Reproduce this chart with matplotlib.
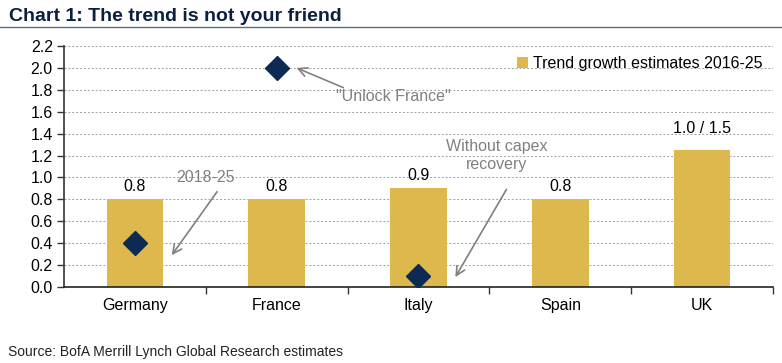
import numpy as np
import matplotlib.pyplot as plt

plt.rcParams['font.family'] = ['Liberation Sans', 'DejaVu Sans']

# Data
countries = ['Germany', 'France', 'Italy', 'Spain', 'UK']
trend = [0.8, 0.8, 0.9, 0.8, 1.25]
bar_labels = ['0.8', '0.8', '0.9', '0.8', '1.0 / 1.5']
alt_idx = [0, 1, 2]            # countries with an alternative scenario
alt_vals = [0.4, 2.0, 0.1]     # diamonds
yticks = [0.0, 0.2, 0.4, 0.6, 0.8, 1.0, 1.2, 1.4, 1.6, 1.8, 2.0, 2.2]

gold = '#DDB84C'
navy = '#0D2B52'
grey = '#808080'

fig = plt.figure(figsize=(7.82, 3.63), dpi=100)
ax = fig.add_axes([0.0818, 0.2094, 0.9067, 0.6639])

x = np.arange(len(countries))
ax.bar(x, trend, width=0.4, color=gold, zorder=2,
       label='Trend growth estimates 2016-25')
ax.plot(alt_idx, alt_vals, linestyle='none', marker='D', markersize=12,
        color=navy, zorder=3)

# value labels above bars
for xi, v, lab in zip(x, trend, bar_labels):
    off = 10 if xi == 4 else 4
    ax.annotate(lab, (xi, v), xytext=(0, off), textcoords='offset points',
                ha='center', va='bottom', fontsize=11.5, color='black')

# annotations with arrows
arrow = dict(arrowstyle='->', color=grey, lw=1.2, shrinkA=0, shrinkB=0,
             mutation_scale=16)
ax.annotate('', xy=(1.14, 2.0), xytext=(1.47, 1.82), arrowprops=arrow)
ax.text(1.82, 1.735, '"Unlock France"', ha='center', va='center',
        fontsize=11.5, color=grey)
ax.annotate('', xy=(0.26, 0.29), xytext=(0.58, 0.87), arrowprops=arrow)
ax.text(0.5, 1.0, '2018-25', ha='center', va='center', fontsize=11.5,
        color=grey)
ax.annotate('', xy=(2.26, 0.09), xytext=(2.62, 0.89), arrowprops=arrow)
ax.text(2.55, 1.2, 'Without capex\nrecovery', ha='center', va='center',
        fontsize=11.5, color=grey, linespacing=1.3)

ax.set_xlim(-0.5, 4.5)
ax.set_ylim(0, 2.2)
ax.set_yticks(yticks)
ax.set_yticklabels([f'{t:.1f}' for t in yticks])
ax.set_xticks(x)
ax.set_xticklabels(countries)
ax.set_xticks(np.arange(0.5, len(countries), 1.0), minor=True)
ax.tick_params(axis='x', which='major', length=0, pad=8, labelsize=11.5)
ax.tick_params(axis='x', which='minor', length=5, direction='out',
               width=1, color='#333333')
ax.tick_params(axis='y', length=5, direction='out', width=1,
               color='#333333', labelsize=11.5, pad=3)
ax.yaxis.grid(True, linestyle=(0, (2, 2)), color='#A0A0A0', lw=0.7, zorder=0)
ax.set_axisbelow(True)
for s in ['top', 'right']:
    ax.spines[s].set_visible(False)
ax.spines['left'].set_color('#333333')
ax.spines['bottom'].set_color('#222222')
ax.spines['left'].set_linewidth(1.2)
ax.spines['bottom'].set_linewidth(1.2)

leg = ax.legend(loc='upper left', bbox_to_anchor=(0.63, 0.985), frameon=False,
                fontsize=11.5, handlelength=0.7, handleheight=0.7,
                handletextpad=0.3, borderaxespad=0)

# title and rule
fig.text(0.012, 0.955, 'Chart 1: The trend is not your friend',
         weight='bold', fontsize=14, color='#0B1F3F', va='center', ha='left')
fig.add_artist(plt.Line2D([0, 1], [0.926, 0.926], color='#5A6E82', lw=1.0))

fig.text(0.010, 0.030, 'Source: BofA Merrill Lynch Global Research estimates',
         fontsize=10, color='#222222', va='center', ha='left')

fig.savefig('out.png', dpi=100)
